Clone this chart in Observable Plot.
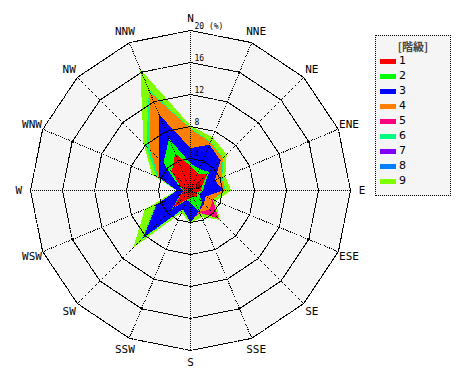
<!DOCTYPE html>
<html><head><meta charset="utf-8">
<script src="https://cdn.jsdelivr.net/npm/d3@7"></script>
<script src="https://cdn.jsdelivr.net/npm/@observablehq/plot@0.6"></script>
<style>
body{margin:0;background:#fff;}
#wrap{position:relative;width:470px;height:380px;overflow:hidden;}
#legend{position:absolute;left:375px;top:35px;width:74px;height:159px;border:1px dotted #000;background:#f5f5f5;}
#legend .t{position:absolute;left:0;width:74px;top:2px;text-align:center;font-family:"Noto Sans CJK JP",sans-serif;font-size:11px;font-weight:bold;color:#444;}
#legend .sw{position:absolute;left:4px;width:16px;height:5px;}
#legend .lb{position:absolute;left:23px;font-family:"DejaVu Sans",sans-serif;font-size:11px;color:#000;line-height:12px;}
</style></head><body><div id="wrap"></div>
<script>
const directions = ["N","NNE","NE","ENE","E","ESE","SE","SSE","S","SSW","SW","WSW","W","WNW","NW","NNW"];
const classes = ["1","2","3","4","5","6","7","8","9"];
const colors = ["#ff0000","#00ff00","#0000ff","#ff8000","#ff0080","#00ff80","#8000ff","#0080ff","#80ff00"];
// frequency (%) of each class per direction, N..NNW clockwise
const c1 = [3.1, 2.3, 3.0, 1.6, 1.3, 0.8, 1.2, 0.8, 1.0, 1.2, 3.1, 1.3, 0.8, 1.4, 3.3, 5.0];
const c2 = [0.3, 0.6, 0.3, 0.3, 0.3, 0.4, 0.8, 2.0, 0.5, 0.1, 0.2, 0.1, 0.1, 0.2, 1.5, 2.0];
const c3 = [1.9, 3.3, 2.0, 1.4, 2.5, 0.8, 0.4, 0.0, 2.5, 1.2, 5.0, 3.2, 0.8, 2.6, 0.8, 3.3];
const c4 = [2.4, 0.3, 0.4, 0.9, 0.2, 1.0, 1.0, 0.1, 0.0, 0.0, 0.0, 0.0, 0.0, 0.1, 1.6, 3.0];
const c5 = [0.0, 0.0, 0.0, 0.0, 0.0, 0.0, 1.6, 0.1, 0.0, 0.0, 0.0, 0.0, 0.0, 0.0, 0.0, 0.0];
const c6 = [0.1, 0.1, 0.1, 0.1, 0.1, 0.0, 0.0, 0.0, 0.0, 0.1, 0.2, 0.1, 0.0, 0.3, 0.6, 0.3];
const c7 = [0.0, 0.0, 0.0, 0.0, 0.0, 0.0, 0.0, 0.0, 0.0, 0.0, 0.0, 0.0, 0.0, 0.0, 0.0, 0.0];
const c8 = [0.0, 0.0, 0.0, 0.0, 0.0, 0.0, 0.0, 0.0, 0.0, 0.0, 0.1, 0.0, 0.0, 0.0, 0.0, 0.0];
const c9 = [0.3, 0.6, 0.6, 0.4, 0.7, 0.4, 0.2, 0.6, 0.1, 0.4, 1.5, 1.5, 0.1, 0.6, 0.5, 2.8];
const ringTicks = [4, 8, 12, 16, 20];
const ringLabels = ["4", "8", "12", "16", "20 (%)"];
const maxR = 20;

const series = [c1,c2,c3,c4,c5,c6,c7,c8,c9];
const ang = i => i * Math.PI * 2 / directions.length;
const px = (v, i) => v * Math.sin(ang(i));
const py = (v, i) => v * Math.cos(ang(i));

// cumulative stacked polygons
const cum = [];
series.forEach((s, k) => cum.push(s.map((v, i) => v + (k ? cum[k-1][i] : 0))));
const layerPts = [];
cum.forEach((arr, k) => arr.forEach((v, i) => layerPts.push({k, i, x: px(v, i), y: py(v, i)})));

const ringPts = [];
ringTicks.forEach(r => directions.forEach((d, i) => ringPts.push({r, x: px(r, i), y: py(r, i)})));
const outerPts = ringPts.filter(d => d.r === maxR);

const marks = [
  Plot.line(outerPts, {x: "x", y: "y", curve: "linear-closed", fill: "#f5f5f5", stroke: "none"})
];
for (let k = classes.length - 1; k >= 0; k--) {
  marks.push(Plot.line(layerPts.filter(d => d.k === k), {x: "x", y: "y", curve: "linear-closed", fill: colors[k], stroke: "none", shapeRendering: "crispEdges"}));
}
marks.push(
  Plot.line(ringPts, {x: "x", y: "y", z: "r", curve: "linear-closed", stroke: "#000", strokeWidth: 1.1, strokeDasharray: "1,1", fill: "none", shapeRendering: "crispEdges"}),
  Plot.link(directions, {x1: 0, y1: 0, x2: (d, i) => px(maxR, i), y2: (d, i) => py(maxR, i), stroke: "#000", strokeWidth: 1.1, strokeDasharray: "1,1", shapeRendering: "crispEdges"}),
  Plot.text(directions, {x: (d, i) => px(21.45, i), y: (d, i) => py(21.45, i), text: d => d, fontFamily: "DejaVu Sans Mono", fontSize: 11, fill: "#000"}),
  Plot.text(ringTicks, {x: 0, y: d => d, text: (d, i) => ringLabels[i], textAnchor: "start", dx: 4, dy: -4, fontFamily: "DejaVu Sans Mono", fontSize: 8, fill: "#000"}),
  Plot.text([0], {x: 0, y: 0, text: d => String(d), textAnchor: "start", dx: 5, dy: -4, fontFamily: "DejaVu Sans Mono", fontSize: 8, fill: "#000"})
);

const W = 470, H = 380, cx = 190, cy = 190, unit = 8;
const chart = Plot.plot({
  width: W, height: H, margin: 0,
  x: {domain: [-cx / unit, (W - cx) / unit], axis: null},
  y: {domain: [-(H - cy) / unit, cy / unit], axis: null},
  style: {background: "#fff", overflow: "visible"},
  marks
});
const wrap = document.getElementById("wrap");
wrap.appendChild(chart);

const lg = document.createElement("div");
lg.id = "legend";
let html = '<div class="t">[階級]</div>';
classes.forEach((c, k) => {
  const top = 23 + k * 15;
  html += `<div class="sw" style="top:${top}px;background:${colors[k]}"></div><div class="lb" style="top:${top - 4}px">${c}</div>`;
});
lg.innerHTML = html;
wrap.appendChild(lg);
</script></body></html>
